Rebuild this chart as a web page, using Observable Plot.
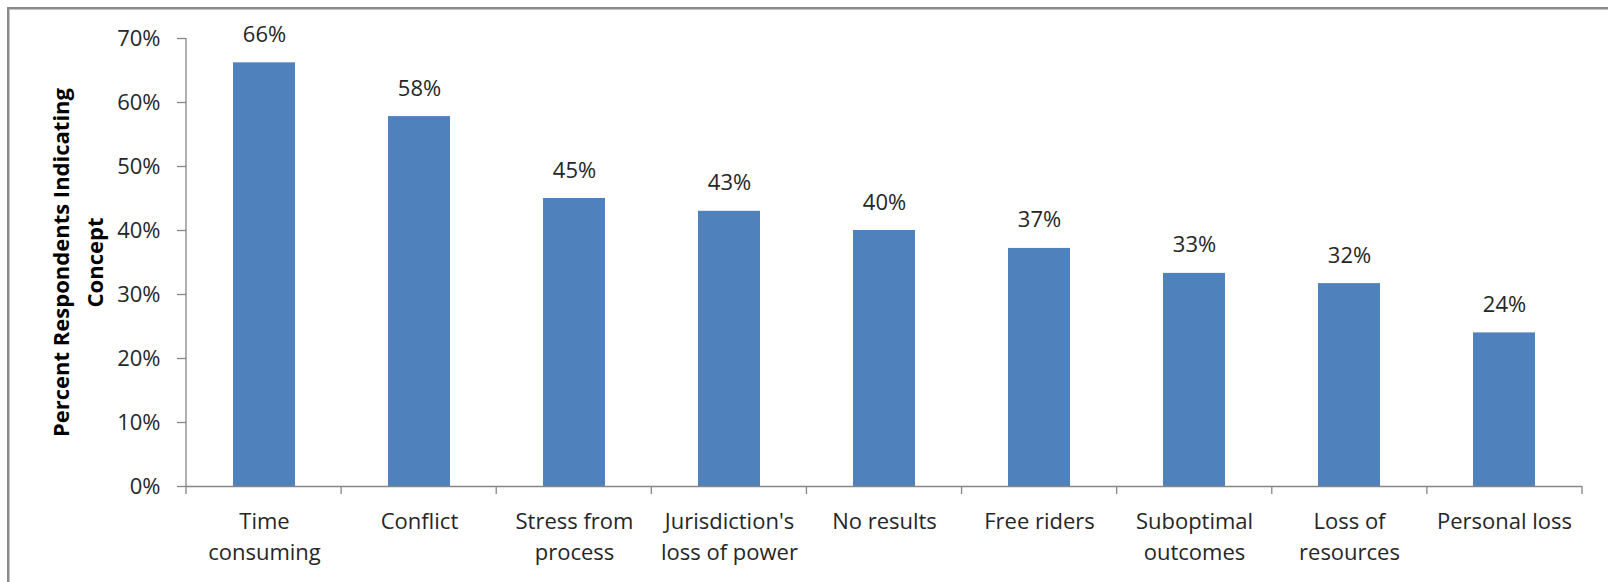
<!DOCTYPE html>
<html>
<head>
<meta charset="utf-8">
<script src="https://cdn.jsdelivr.net/npm/d3@7"></script>
<script src="https://cdn.jsdelivr.net/npm/@observablehq/plot@0.6"></script>
<style>
  html, body { margin: 0; padding: 0; background: #fff; }
  #wrap { position: relative; width: 1608px; height: 582px; overflow: hidden; }
  #edge {
    position: absolute; left: 7px; top: 7px; right: -10px; bottom: -10px;
    border-top: 2px solid #8a8a8a; border-left: 2px solid #8a8a8a;
    box-shadow: inset 1px 1px 0 #c4c4c4;
  }
  #chart { position: absolute; left: 0; top: 0; }
</style>
</head>
<body>
<div id="wrap"><div id="edge"></div><div id="chart"></div></div>
<script>
// Reasons respondents gave against collaboration
const categories = [
  "Time consuming", "Conflict", "Stress from process", "Jurisdiction's loss of power",
  "No results", "Free riders", "Suboptimal outcomes", "Loss of resources", "Personal loss"
];
const xTickLabels = [
  "Time\nconsuming", "Conflict", "Stress from\nprocess", "Jurisdiction's\nloss of power",
  "No results", "Free riders", "Suboptimal\noutcomes", "Loss of\nresources", "Personal loss"
];
const shares = [0.662, 0.578, 0.450, 0.430, 0.400, 0.372, 0.333, 0.317, 0.240];
const yTicks = [0, 0.1, 0.2, 0.3, 0.4, 0.5, 0.6, 0.7];
const yTitle = "Percent Respondents Indicating\nConcept";

const data = categories.map((c, i) => ({category: c, share: shares[i]}));
const labelOf = new Map(categories.map((c, i) => [c, xTickLabels[i]]));
const pct = d3.format(".0%");

const axisGray = "#868686";
const ink = "#262626";

const plot = Plot.plot({
  width: 1608,
  height: 582,
  marginLeft: 186,
  marginRight: 26,
  marginTop: 38,
  marginBottom: 96,
  style: {fontFamily: "'Open Sans', sans-serif", fontSize: "22px", color: ink, background: "transparent", overflow: "visible"},
  x: {domain: categories, paddingInner: 0.6, paddingOuter: 0.3, label: null},
  y: {domain: [0, 0.7], label: null},
  marks: [
    Plot.barY(data, {x: "category", y: "share", fill: "#4f81bd"}),
    Plot.text(data, {x: "category", y: "share", text: d => pct(d.share), dy: -28, fill: ink}),
    Plot.ruleY([0], {stroke: axisGray, strokeWidth: 1.3}),
    Plot.axisY({ticks: yTicks, tickFormat: ".0%", tickSize: 9, tickPadding: 17, stroke: axisGray, strokeWidth: 1.3, label: null}),
    Plot.axisX({tickSize: 0, tickPadding: 21, tickFormat: d => labelOf.get(d), lineHeight: 1.4, label: null}),
    Plot.text([yTitle], {
      text: d => d, frameAnchor: "left", textAnchor: "middle", lineAnchor: "middle",
      rotate: -90, dx: -111,
      fontWeight: "bold", fontSize: 22, lineHeight: 1.55, fill: "#000"
    })
  ]
});

// Value axis line and category boundary ticks, placed from the plot's own scales
const xs = plot.scale("x");
const ys = plot.scale("y");
const svg = d3.select(plot);
const x0 = xs.range[0], x1 = xs.range[1];
const step = (x1 - x0) / categories.length;
const yBase = ys.apply(0), yTop = ys.apply(0.7);
const g = svg.append("g").attr("stroke", axisGray).attr("stroke-width", 1.3);
g.append("line").attr("x1", x0).attr("x2", x0).attr("y1", yTop).attr("y2", yBase);
d3.range(categories.length + 1).forEach(k => {
  const x = x0 + k * step;
  g.append("line").attr("x1", x).attr("x2", x).attr("y1", yBase).attr("y2", yBase + 8);
});

document.getElementById("chart").append(plot);
</script>
</body>
</html>
